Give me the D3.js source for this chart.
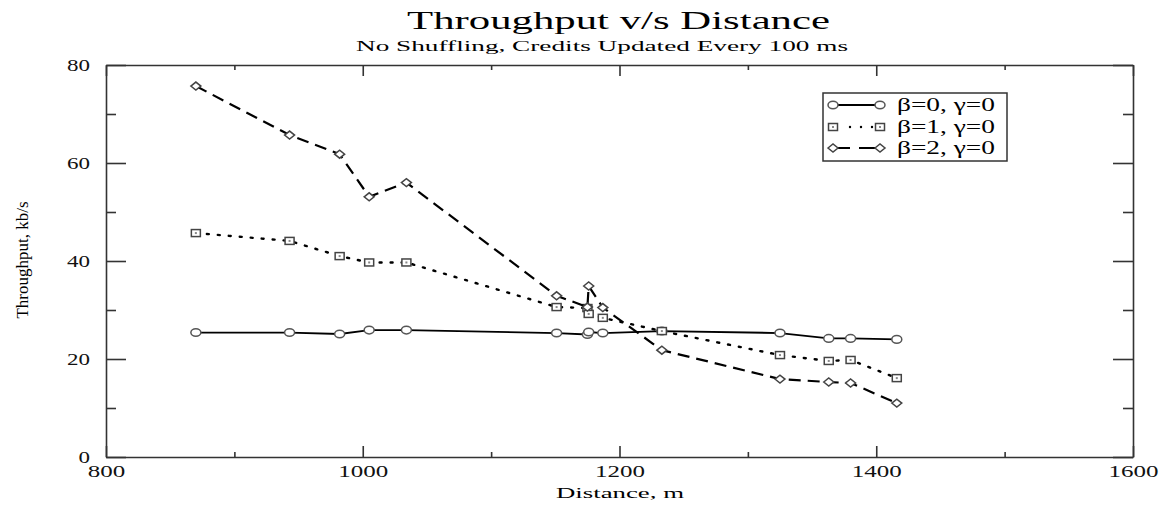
<!DOCTYPE html>
<html>
<head>
<meta charset="utf-8">
<script src="https://cdn.jsdelivr.net/npm/d3@7"></script>
<style>
  body { margin: 0; background: #fff; }
  svg { display: block; font-family: "Liberation Serif", "Times New Roman", serif; }
  .axis path, .axis line { stroke: #333; stroke-width: 1.6; }
  .axis text { fill: #111; font-size: 16px; font-family: "Liberation Serif", "Times New Roman", serif; }
</style>
</head>
<body>
<svg width="1162" height="508"></svg>
<script>
// values
const distance = [870, 943, 982, 1005, 1034, 1151, 1175, 1176, 1187, 1233, 1325, 1363, 1380, 1416];
const beta0 = [25.4, 25.4, 25.1, 25.9, 25.9, 25.3, 25.0, 25.5, 25.3, 25.7, 25.3, 24.2, 24.2, 24.0];
const beta1 = [45.7, 44.1, 41.0, 39.7, 39.7, 30.6, 30.4, 29.2, 28.4, 25.7, 20.8, 19.6, 19.8, 16.1];
const beta2 = [75.7, 65.7, 61.8, 53.1, 56.0, 32.9, 30.6, 34.9, 30.5, 21.8, 15.9, 15.3, 15.1, 11.0];
const seriesNames = ['β=0, γ=0', 'β=1, γ=0', 'β=2, γ=0'];
const xTicks = [800, 1000, 1200, 1400, 1600];
const xMinor = [900, 1100, 1300, 1500];
const yTicks = [0, 20, 40, 60, 80];
const yMinor = [10, 30, 50, 70];

const svg = d3.select('svg');
const margin = { top: 65, right: 29, bottom: 51, left: 106 };
const width = 1162, height = 508;
const innerWidth = width - margin.left - margin.right;
const innerHeight = height - margin.top - margin.bottom;

const xScale = d3.scaleLinear().domain([800, 1600]).range([0, innerWidth]);
const yScale = d3.scaleLinear().domain([0, 80]).range([innerHeight, 0]);

const g = svg.append('g').attr('transform', `translate(${margin.left}, ${margin.top})`);

// titles
svg.append('text').attr('x', 407).attr('y', 29)
    .attr('font-size', 25).attr('textLength', 423).attr('lengthAdjust', 'spacingAndGlyphs')
    .text('Throughput v/s Distance');
svg.append('text').attr('x', 356).attr('y', 51)
    .attr('font-size', 15).attr('textLength', 492).attr('lengthAdjust', 'spacingAndGlyphs')
    .text('No Shuffling, Credits Updated Every 100 ms');
svg.append('text').attr('x', 556).attr('y', 498)
    .attr('font-size', 15).attr('textLength', 128).attr('lengthAdjust', 'spacingAndGlyphs')
    .text('Distance, m');
svg.append('text').attr('transform', 'translate(28, 260) rotate(-90)')
    .attr('text-anchor', 'middle').attr('font-size', 17)
    .text('Throughput, kb/s');

// axes, ticks pointing inward on all four sides
const stretch = (sel, perChar) => sel.attr('font-family', null).selectAll('text')
    .attr('textLength', function() { return this.textContent.length * perChar; })
    .attr('lengthAdjust', 'spacingAndGlyphs');
const fmt = d3.format('d');

g.append('g').attr('class', 'axis')
    .attr('transform', `translate(0, ${innerHeight})`)
    .call(d3.axisBottom(xScale).tickValues(xTicks).tickFormat(fmt).tickSize(-11).tickPadding(9).tickSizeOuter(0))
    .call(s => stretch(s, 12.5));
g.append('g').attr('class', 'axis')
    .attr('transform', `translate(0, ${innerHeight})`)
    .call(d3.axisBottom(xScale).tickValues(xMinor).tickSize(-5).tickFormat('').tickSizeOuter(0))
    .call(s => s.select('.domain').remove());
g.append('g').attr('class', 'axis')
    .call(d3.axisTop(xScale).tickValues(xTicks).tickSize(-11).tickFormat('').tickSizeOuter(0));
g.append('g').attr('class', 'axis')
    .call(d3.axisTop(xScale).tickValues(xMinor).tickSize(-5).tickFormat('').tickSizeOuter(0))
    .call(s => s.select('.domain').remove());

g.append('g').attr('class', 'axis')
    .call(d3.axisLeft(yScale).tickValues(yTicks).tickFormat(fmt).tickSize(-20).tickPadding(16).tickSizeOuter(0))
    .call(s => stretch(s, 11.5));
g.append('g').attr('class', 'axis')
    .call(d3.axisLeft(yScale).tickValues(yMinor).tickSize(-10).tickFormat('').tickSizeOuter(0))
    .call(s => s.select('.domain').remove());
g.append('g').attr('class', 'axis')
    .attr('transform', `translate(${innerWidth}, 0)`)
    .call(d3.axisRight(yScale).tickValues(yTicks).tickSize(-20).tickFormat('').tickSizeOuter(0));
g.append('g').attr('class', 'axis')
    .attr('transform', `translate(${innerWidth}, 0)`)
    .call(d3.axisRight(yScale).tickValues(yMinor).tickSize(-10).tickFormat('').tickSizeOuter(0))
    .call(s => s.select('.domain').remove());

// series
const styles = [
    { values: beta0, dash: null, width: 1.8, marker: 'circle' },
    { values: beta1, dash: '2,9', width: 2.4, marker: 'square' },
    { values: beta2, dash: '12,7', width: 2.2, marker: 'diamond' }
];

const drawMarker = (sel, type, x, y) => {
    if (type === 'circle') {
        sel.append('ellipse').attr('cx', x).attr('cy', y).attr('rx', 5).attr('ry', 3.8)
            .attr('fill', '#fff').attr('stroke', '#555').attr('stroke-width', 1.5);
    } else if (type === 'square') {
        sel.append('rect').attr('x', x - 4.5).attr('y', y - 3.5).attr('width', 9).attr('height', 7)
            .attr('fill', '#fff').attr('stroke', '#444').attr('stroke-width', 1.5);
        sel.append('rect').attr('x', x - 1).attr('y', y - 1).attr('width', 2).attr('height', 2)
            .attr('fill', '#888');
    } else {
        sel.append('path').attr('d', `M${x - 5},${y}L${x},${y - 4}L${x + 5},${y}L${x},${y + 4}Z`)
            .attr('fill', '#fff').attr('stroke', '#444').attr('stroke-width', 1.5);
    }
};

const line = d3.line().x(d => xScale(d[0])).y(d => yScale(d[1]));

styles.forEach(s => {
    const pts = distance.map((d, i) => [d, s.values[i]]);
    g.append('path').datum(pts)
        .attr('d', line)
        .attr('fill', 'none')
        .attr('stroke', '#000')
        .attr('stroke-width', s.width)
        .attr('stroke-linecap', s.dash === '2,9' ? 'round' : 'butt')
        .attr('stroke-dasharray', s.dash);
    const mg = g.append('g');
    pts.forEach(p => drawMarker(mg, s.marker, xScale(p[0]), yScale(p[1])));
});

// legend
const legend = svg.append('g');
legend.append('rect').attr('x', 823).attr('y', 93).attr('width', 184).attr('height', 68)
    .attr('fill', '#fff').attr('stroke', '#333').attr('stroke-width', 1.5);
const rowY = [105, 127, 148];
styles.forEach((s, i) => {
    const y = rowY[i];
    legend.append('line').attr('x1', 833).attr('x2', 880).attr('y1', y).attr('y2', y)
        .attr('stroke', '#000').attr('stroke-width', s.width)
        .attr('stroke-linecap', s.dash === '2,9' ? 'round' : 'butt')
        .attr('stroke-dasharray', s.dash === '12,7' ? '17,9,21' : s.dash === '2,9' ? '0,17,0,11,0,11' : null);
    drawMarker(legend, s.marker, 833, y);
    drawMarker(legend, s.marker, 880, y);
    legend.append('text').attr('x', 897).attr('y', y + 6)
        .attr('font-size', 18).attr('textLength', 98).attr('lengthAdjust', 'spacingAndGlyphs')
        .text(seriesNames[i]);
});
</script>
</body>
</html>
